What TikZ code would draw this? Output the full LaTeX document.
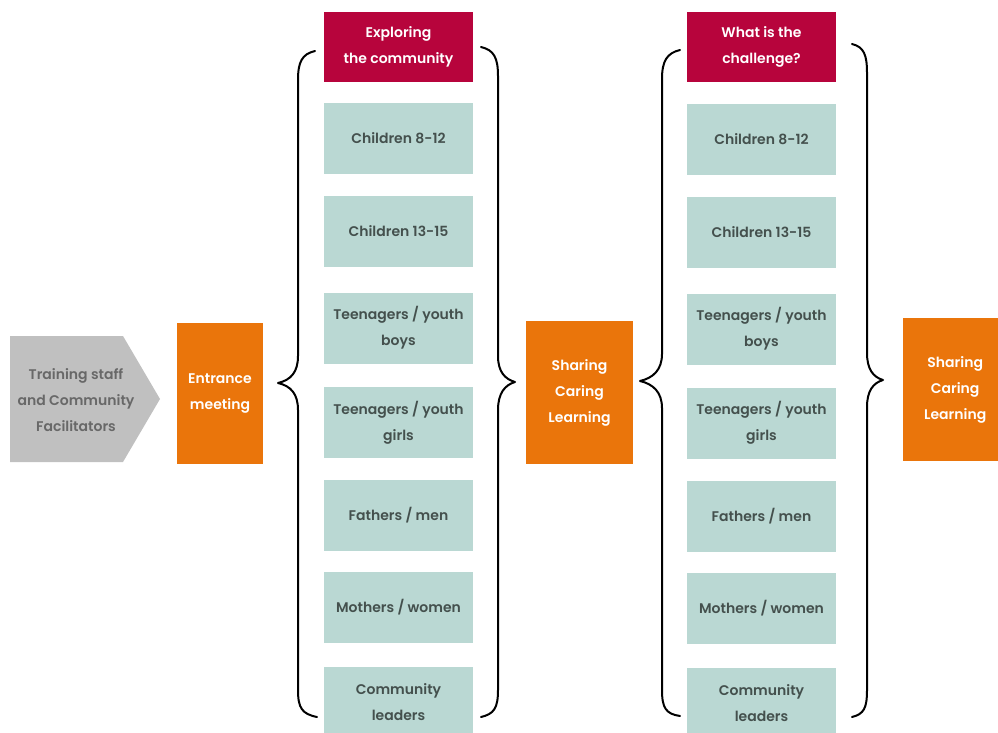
\documentclass[tikz,border=0pt]{standalone}
\usepackage{fontspec}
\setmainfont{Poppins}[BoldFont={Poppins SemiBold}]
\definecolor{orng}{RGB}{234,117,11}
\definecolor{crim}{RGB}{183,4,60}
\definecolor{tealbox}{RGB}{186,216,211}
\definecolor{tealtxt}{RGB}{68,80,77}
\definecolor{greybox}{RGB}{192,192,192}
\definecolor{greytxt}{RGB}{104,104,104}
\begin{document}
\begin{tikzpicture}[x=1pt,y=-1pt,
  lbl/.style={font=\fontsize{14}{26}\selectfont\bfseries, align=center, inner sep=0pt},
  grp/.style={lbl, fill=tealbox, text=tealtxt, minimum width=149pt, minimum height=71pt},
  head/.style={lbl, fill=crim, text=white, minimum width=149pt, minimum height=70pt},
  ornbox/.style={lbl, fill=orng, text=white},
  brc/.style={line width=2pt, line cap=round, line join=round}]
\useasboundingbox (0,0) rectangle (998,733);

% grey pentagon
\fill[greybox] (10,336) -- (123,336) -- (160,399) -- (123,462) -- (10,462) -- cycle;
\node[lbl, text=greytxt] (train) at (76,400) {Training staff\\and Community\\Facilitators};

% entrance
\node[ornbox, minimum width=86pt, minimum height=141pt] (entr) at (220,393.5) {Entrance\\meeting};

% column 1
\node[head] (h1) at (398.5,47) {Exploring\\the community};
\node[grp] (a1) at (398.5,138.5) {Children 8-12};
\node[grp] (a2) at (398.5,231) {Children 13-15};
\node[grp] (a3) at (398.5,328) {Teenagers / youth\\boys};
\node[grp] (a4) at (398.5,422.5) {Teenagers / youth\\girls};
\node[grp] (a5) at (398.5,515) {Fathers / men};
\node[grp] (a6) at (398.5,607) {Mothers / women};
\node[grp] (a7) at (398.5,702.5) {Community\\leaders};

% sharing 1
\node[ornbox, minimum width=107pt, minimum height=143pt] (s1) at (579.5,392.5) {Sharing\\Caring\\Learning};

% column 2
\node[head] (h2) at (761.5,47) {What is the\\challenge?};
\node[grp] (b1) at (761.5,139.5) {Children 8-12};
\node[grp] (b2) at (761.5,232) {Children 13-15};
\node[grp] (b3) at (761.5,329) {Teenagers / youth\\boys};
\node[grp] (b4) at (761.5,423) {Teenagers / youth\\girls};
\node[grp] (b5) at (761.5,516) {Fathers / men};
\node[grp] (b6) at (761.5,608) {Mothers / women};
\node[grp] (b7) at (761.5,703.5) {Community\\leaders};

% sharing 2
\node[ornbox, minimum width=100pt, minimum height=143pt, anchor=west] (s2) at (903,389.5) {\hspace*{4pt}Sharing\\\hspace*{4pt}Caring\\\hspace*{4pt}Learning};

% braces column 1
\draw[brc] (315,51) .. controls (302,54) and (298,62) .. (298,80) -- (298,356)
  .. controls (298,372) and (291,380) .. (278,383)
  .. controls (291,386) and (298,394) .. (298,410) -- (298,690)
  .. controls (298,708) and (302,714) .. (317,717);
\draw[brc] (481,47) .. controls (494,50) and (498,58) .. (498,76) -- (498,356)
  .. controls (498,372) and (505,379) .. (515,382)
  .. controls (505,385) and (498,393) .. (498,410) -- (498,690)
  .. controls (498,708) and (494,714) .. (481,717);

% braces column 2
\draw[brc] (680,50) .. controls (667,53) and (662,61) .. (662,79) -- (662,354)
  .. controls (662,370) and (653,378) .. (640,381)
  .. controls (653,384) and (662,392) .. (662,408) -- (662,690)
  .. controls (662,708) and (666,714) .. (680,716);
\draw[brc] (852,44) .. controls (864,47) and (867,55) .. (867,73) -- (867,353)
  .. controls (867,369) and (873,377) .. (883,380)
  .. controls (873,383) and (867,391) .. (867,407) -- (867,690)
  .. controls (867,708) and (864,714) .. (852,717);
\end{tikzpicture}
\end{document}
